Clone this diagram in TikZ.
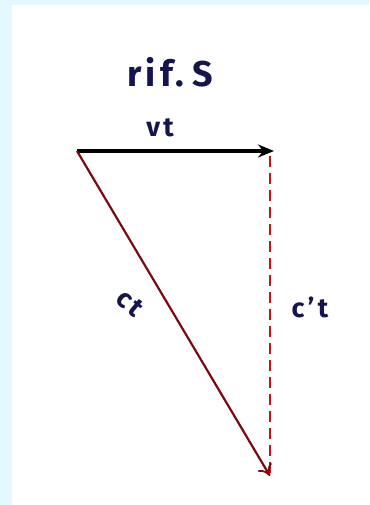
\documentclass[tikz,border=0pt]{standalone}
\usepackage{fontspec}
\setmainfont{Fira Sans}
\newfontfamily\handfont[LetterSpace=12]{Fira Sans}
\usetikzlibrary{arrows.meta}
\definecolor{bgcyan}{HTML}{E4F8FD}
\definecolor{ink}{HTML}{141450}
\definecolor{redline}{HTML}{7A0A10}
\definecolor{reddash}{HTML}{C0141E}
\tikzset{
  lbl/.style={text=ink, inner sep=0pt, font=\handfont\bfseries\fontsize{27}{30}\selectfont},
  vecblack/.style={line width=3.6pt, black, -{Stealth[length=16bp,width=13bp]}},
  vecred/.style={line width=2.2pt, redline, -{To[length=11bp,width=16bp,line width=1.8pt]}},
  dashred/.style={line width=2.6pt, reddash, dash pattern=on 11bp off 6bp}
}
\begin{document}
\begin{tikzpicture}[x=1bp,y=-1bp]
\fill[bgcyan] (0,0) rectangle (369,505);
\fill[white] (12,5) rectangle (369,505);
\useasboundingbox (0,0) rectangle (369,505);
\coordinate (O) at (77,151);
\coordinate (A) at (274,151);
\coordinate (B) at (270,476);
\coordinate (Atop) at (270,156);
\draw[dashred] (Atop) -- (B);
\draw[vecblack] (O) -- (A);
\draw[vecred] (O) -- (B);
\node[lbl, font=\handfont\bfseries\fontsize{36}{38}\selectfont] (title) at (170,72) {rif.\hspace{8bp}S};
\node[lbl] (vt) at (160,128) {vt};
\node[lbl, rotate=-40] (ct) at (130,303) {ct};
\node[lbl] (cpt) at (310,307) {c’t};
\end{tikzpicture}
\end{document}
